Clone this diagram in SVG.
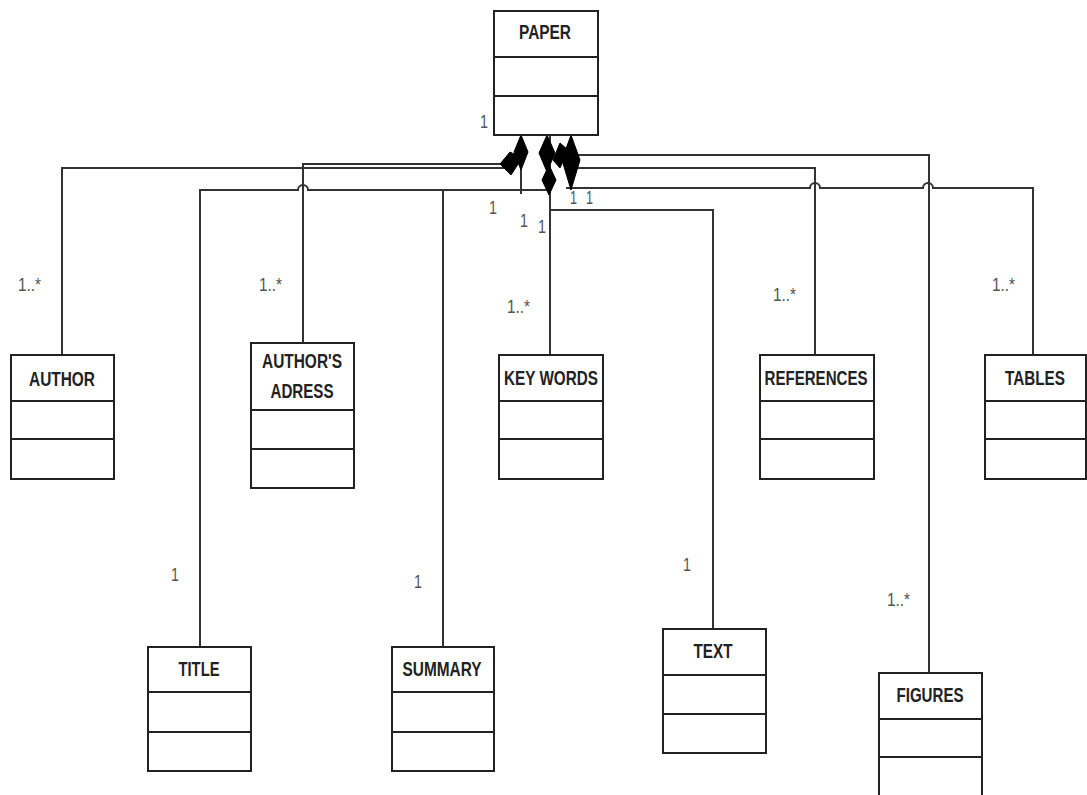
<svg xmlns="http://www.w3.org/2000/svg" width="1087" height="795" viewBox="0 0 1087 795">
<style>
.box{fill:#fff;stroke:#222;stroke-width:2}
.div{stroke:#222;stroke-width:2}
.nm{font-family:"Liberation Sans",Arial,sans-serif;font-size:21px;font-weight:bold;fill:#222;text-anchor:middle}
.lb{font-family:"Liberation Sans",Arial,sans-serif;font-size:19px;fill:#555}
.ln{fill:none;stroke:#333;stroke-width:2}
.dm{fill:#000;stroke:#000;stroke-width:1}
</style>
<rect width="1087" height="795" fill="#fff"/>
<g id="connectors">
<path class="ln" d="M62 355 V168 H505"/>
<path class="ln" d="M303 343 V164 H510"/>
<path class="ln" d="M200 647 V190 H298 A5 5 0 0 1 308 190 H550"/>
<path class="ln" d="M443 647 V190"/>
<path class="ln" d="M521 135 V194"/>
<path class="ln" d="M550 135 V355"/>
<path class="ln" d="M550 210 H713 V629"/>
<path class="ln" d="M575 155 H929 V673"/>
<path class="ln" d="M572 168 H815 V355"/>
<path class="ln" d="M566 188 H810 A5 5 0 0 1 820 188 H923 A5 5 0 0 1 933 188 H1033 V355"/>
<polygon class="dm" points="521,135 528,152 521,170 514,152"/>
<polygon class="dm" points="500,164 510,152 522,158 511,175"/>
<polygon class="dm" points="547,135 555,153 547,172 539,153"/>
<polygon class="dm" points="549,165 556,180 549,195 542,180"/>
<polygon class="dm" points="553,160 560,143 568,150 560,168"/>
<polygon class="dm" points="571,135 580,160 571,190 562,160"/>
</g>
<g id="paper">
<rect class="box" x="494" y="11" width="104" height="124"/>
<line class="div" x1="494" y1="57" x2="598" y2="57"/>
<line class="div" x1="494" y1="96" x2="598" y2="96"/>
<text class="nm" x="545" y="39" textLength="52" lengthAdjust="spacingAndGlyphs">PAPER</text>
</g>
<g id="author">
<rect class="box" x="11" y="355" width="103" height="124"/>
<line class="div" x1="11" y1="401" x2="114" y2="401"/>
<line class="div" x1="11" y1="439" x2="114" y2="439"/>
<text class="nm" x="62" y="386" textLength="66" lengthAdjust="spacingAndGlyphs">AUTHOR</text>
</g>
<g id="authors-adress">
<rect class="box" x="251" y="343" width="103" height="145"/>
<line class="div" x1="251" y1="410" x2="354" y2="410"/>
<line class="div" x1="251" y1="449" x2="354" y2="449"/>
<text class="nm" x="302" y="368" textLength="80" lengthAdjust="spacingAndGlyphs">AUTHOR'S</text>
<text class="nm" x="302" y="398" textLength="63" lengthAdjust="spacingAndGlyphs">ADRESS</text>
</g>
<g id="key-words">
<rect class="box" x="499" y="355" width="104" height="124"/>
<line class="div" x1="499" y1="401" x2="603" y2="401"/>
<line class="div" x1="499" y1="439" x2="603" y2="439"/>
<text class="nm" x="551" y="385" textLength="94" lengthAdjust="spacingAndGlyphs">KEY WORDS</text>
</g>
<g id="references">
<rect class="box" x="760" y="355" width="114" height="124"/>
<line class="div" x1="760" y1="401" x2="874" y2="401"/>
<line class="div" x1="760" y1="439" x2="874" y2="439"/>
<text class="nm" x="816" y="385" textLength="103" lengthAdjust="spacingAndGlyphs">REFERENCES</text>
</g>
<g id="tables">
<rect class="box" x="985" y="355" width="101" height="124"/>
<line class="div" x1="985" y1="401" x2="1086" y2="401"/>
<line class="div" x1="985" y1="439" x2="1086" y2="439"/>
<text class="nm" x="1035" y="385" textLength="60" lengthAdjust="spacingAndGlyphs">TABLES</text>
</g>
<g id="title">
<rect class="box" x="148" y="647" width="103" height="124"/>
<line class="div" x1="148" y1="692" x2="251" y2="692"/>
<line class="div" x1="148" y1="732" x2="251" y2="732"/>
<text class="nm" x="199" y="676" textLength="41" lengthAdjust="spacingAndGlyphs">TITLE</text>
</g>
<g id="summary">
<rect class="box" x="392" y="647" width="102" height="124"/>
<line class="div" x1="392" y1="692" x2="494" y2="692"/>
<line class="div" x1="392" y1="732" x2="494" y2="732"/>
<text class="nm" x="442" y="676" textLength="79" lengthAdjust="spacingAndGlyphs">SUMMARY</text>
</g>
<g id="text">
<rect class="box" x="663" y="629" width="103" height="124"/>
<line class="div" x1="663" y1="675" x2="766" y2="675"/>
<line class="div" x1="663" y1="714" x2="766" y2="714"/>
<text class="nm" x="713" y="658" textLength="39" lengthAdjust="spacingAndGlyphs">TEXT</text>
</g>
<g id="figures">
<rect class="box" x="879" y="673" width="103" height="130"/>
<line class="div" x1="879" y1="719" x2="982" y2="719"/>
<line class="div" x1="879" y1="757" x2="982" y2="757"/>
<text class="nm" x="930" y="702" textLength="67" lengthAdjust="spacingAndGlyphs">FIGURES</text>
</g>
<g id="labels">
<text class="lb" x="18" y="291" textLength="23" lengthAdjust="spacingAndGlyphs">1..*</text>
<text class="lb" x="259" y="291" textLength="23" lengthAdjust="spacingAndGlyphs">1..*</text>
<text class="lb" x="507" y="313" textLength="23" lengthAdjust="spacingAndGlyphs">1..*</text>
<text class="lb" x="773" y="301" textLength="23" lengthAdjust="spacingAndGlyphs">1..*</text>
<text class="lb" x="992" y="291" textLength="23" lengthAdjust="spacingAndGlyphs">1..*</text>
<text class="lb" x="887" y="606" textLength="23" lengthAdjust="spacingAndGlyphs">1..*</text>
<text class="lb" x="171" y="581" textLength="8" lengthAdjust="spacingAndGlyphs">1</text>
<text class="lb" x="414" y="588" textLength="8" lengthAdjust="spacingAndGlyphs">1</text>
<text class="lb" x="683" y="571" textLength="8" lengthAdjust="spacingAndGlyphs">1</text>
<text class="lb" x="480" y="128" textLength="8" lengthAdjust="spacingAndGlyphs">1</text>
<text class="lb" x="489" y="214" textLength="8" lengthAdjust="spacingAndGlyphs">1</text>
<text class="lb" x="520" y="227" textLength="8" lengthAdjust="spacingAndGlyphs">1</text>
<text class="lb" x="538" y="233" textLength="8" lengthAdjust="spacingAndGlyphs">1</text>
<text class="lb" x="570" y="204" textLength="7" lengthAdjust="spacingAndGlyphs">1</text>
<text class="lb" x="586" y="204" textLength="7" lengthAdjust="spacingAndGlyphs">1</text>
</g>
</svg>
